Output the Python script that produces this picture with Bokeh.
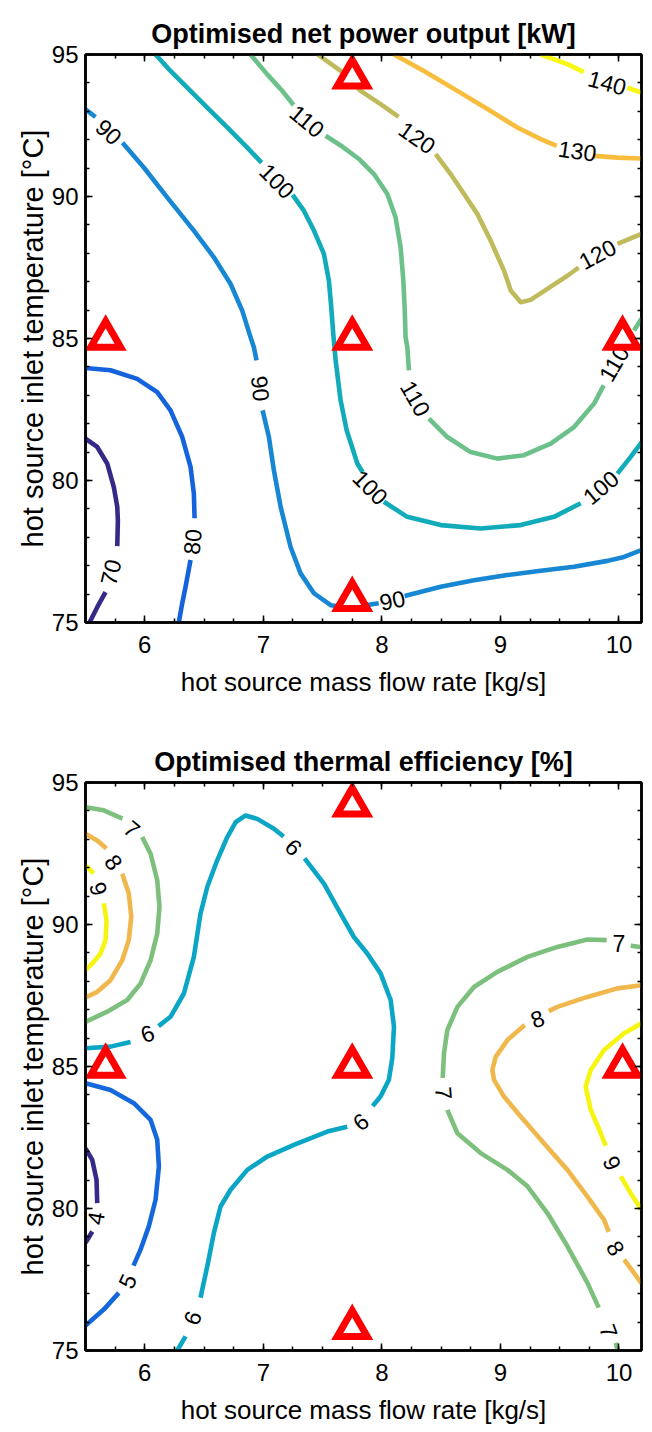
import math
from bokeh.plotting import figure
from bokeh.models import Range1d, FixedTicker, LinearAxis, Label, ColumnDataSource
from bokeh.layouts import column
from bokeh.embed import file_html
from bokeh.resources import INLINE
from bokeh.core.properties import value

FONT = "Liberation Sans"

# ---------------- axes / ticks ----------------
x_limits = (5.5, 10.19)
y_limits = (75, 95)
x_major = [6, 7, 8, 9, 10]
x_minor = [5.5, 5.75, 6.0, 6.25, 6.5, 6.75, 7.0, 7.25, 7.5, 7.75, 8.0, 8.25,
           8.5, 8.75, 9.0, 9.25, 9.5, 9.75, 10.0]
y_major = [75, 80, 85, 90, 95]
y_minor = [75, 76, 77, 78, 79, 80, 81, 82, 83, 84, 85, 86, 87, 88, 89, 90,
           91, 92, 93, 94, 95]

# design points (red triangles)
design_x = [7.75, 5.67, 7.75, 10.03, 7.75]
design_y = [94.2, 85.0, 85.0, 85.0, 75.8]

# ---------------- (a) net power output [kW] ----------------
a_levels = [70, 80, 90, 100, 110, 120, 130, 140]
a_colors = ["#352a87", "#1563dc", "#1787d4", "#11abba", "#6cc18b", "#bfbb5c",
            "#f9bd3d", "#f8f812"]
a_70 = [[(5.5, 81.47), (5.599, 81.18), (5.683, 80.60), (5.739, 79.77), (5.768, 79.07),
         (5.773, 78.60), (5.768, 77.69)],
        [(5.669, 76.07), (5.599, 75.54), (5.534, 75.0)]]
a_80 = [[(5.5, 83.96), (5.711, 83.88), (5.936, 83.58), (6.105, 83.11), (6.217, 82.47),
         (6.316, 81.53), (6.386, 80.48), (6.414, 79.54), (6.420, 78.67)],
        [(6.386, 77.20), (6.344, 76.26), (6.316, 75.68), (6.287, 75.0)]]
a_90 = [[(5.5, 93.07), (5.584, 92.80)],
        [(5.812, 91.89), (5.992, 91.02), (6.189, 89.97), (6.414, 88.80), (6.583, 87.86),
         (6.724, 86.92), (6.822, 85.98), (6.892, 85.05), (6.920, 84.69), (6.943, 84.23)],
        [(6.994, 82.47), (7.047, 81.53), (7.089, 80.36), (7.146, 79.07), (7.230, 77.66),
         (7.314, 76.73), (7.427, 76.03), (7.568, 75.61), (7.708, 75.53), (7.821, 75.58),
         (7.973, 75.68)],
        [(8.192, 75.93), (8.496, 76.26), (8.777, 76.49), (9.059, 76.67), (9.340, 76.82),
         (9.621, 76.96), (9.903, 77.17), (10.043, 77.31), (10.19, 77.55)]]
a_100 = [[(6.091, 95.0), (6.217, 94.42), (6.358, 93.83), (6.527, 93.13), (6.696, 92.43),
          (6.865, 91.72), (6.985, 91.19)],
         [(7.247, 90.06), (7.342, 89.50), (7.427, 88.80), (7.511, 87.98), (7.553, 87.04),
          (7.573, 86.10), (7.590, 85.16), (7.610, 84.23), (7.652, 82.82), (7.703, 81.77),
          (7.793, 80.60), (7.838, 80.29)],
         [(8.017, 79.25), (8.214, 78.72), (8.496, 78.43), (8.833, 78.31), (9.171, 78.43),
          (9.452, 78.72), (9.677, 79.20)],
         [(9.987, 80.24), (10.099, 80.83), (10.19, 81.34)]]
a_110 = [[(6.892, 95.0), (7.033, 94.30), (7.160, 93.72), (7.255, 93.22)],
         [(7.525, 92.14), (7.669, 91.75), (7.804, 91.33), (7.933, 90.79), (8.046, 90.09),
          (8.116, 89.26), (8.158, 88.21), (8.181, 87.04), (8.192, 86.10), (8.200, 85.05),
          (8.215, 84.69), (8.228, 83.88)],
         [(8.397, 82.18), (8.552, 81.53), (8.749, 81.00), (8.974, 80.77), (9.199, 80.89),
          (9.424, 81.30), (9.621, 81.88), (9.789, 82.70), (9.871, 83.35)],
         [(10.127, 85.28), (10.19, 85.70)]]
a_120 = [[(7.458, 95.0), (7.652, 94.42), (7.821, 93.72), (7.989, 93.25), (8.141, 92.80)],
         [(8.454, 91.49), (8.580, 90.79), (8.693, 90.09), (8.806, 89.38), (8.918, 88.44),
          (9.030, 87.39), (9.087, 86.69), (9.171, 86.28), (9.255, 86.36), (9.396, 86.75),
          (9.565, 87.21), (9.660, 87.50)],
         [(9.987, 88.33), (10.19, 88.68)]]
a_130 = [[(8.102, 95.0), (8.355, 94.42), (8.637, 93.72), (8.918, 93.01), (9.143, 92.43),
          (9.340, 92.02), (9.475, 91.78)],
         [(9.790, 91.43), (9.987, 91.37), (10.19, 91.34)]]
a_140 = [[(9.340, 95.0), (9.565, 94.66), (9.703, 94.38)],
         [(10.071, 93.83), (10.19, 93.66)]]
a_lines = [a_70, a_80, a_90, a_100, a_110, a_120, a_130, a_140]
# contour labels: (level, x, y, angle in degrees)
a_labels = [(70, 5.711, 76.77, 76), (80, 6.400, 77.84, 85),
            (90, 5.697, 92.28, -42), (90, 6.977, 83.24, -85), (90, 8.088, 75.79, 12),
            (100, 7.118, 90.55, -45), (100, 7.905, 79.76, -45), (100, 9.846, 79.76, 40),
            (110, 7.371, 92.66, -40), (110, 8.285, 82.89, -60), (110, 9.956, 84.12, 60),
            (120, 8.299, 92.08, -35), (120, 9.818, 87.98, 28),
            (130, 9.649, 91.61, -8), (140, 9.902, 94.01, -15)]

# ---------------- (b) thermal efficiency [%] ----------------
b_levels = [4, 5, 6, 7, 8, 9]
b_colors = ["#352a87", "#1468dc", "#0ba6c6", "#7dbf7d", "#f0b84c", "#f5f510"]
b_4 = [[(5.5, 82.12), (5.557, 81.71), (5.593, 81.01), (5.599, 80.19)],
       [(5.557, 79.19), (5.5, 78.79)]]
b_5 = [[(5.5, 84.41), (5.711, 84.17), (5.908, 83.71), (6.049, 83.12), (6.105, 82.42),
        (6.119, 81.48), (6.091, 80.31), (6.034, 79.37), (5.964, 78.55), (5.905, 77.99)],
       [(5.781, 77.03), (5.654, 76.44), (5.5, 75.88)]]
b_6 = [[(5.5, 85.64), (5.711, 85.70), (5.880, 85.86)],
       [(6.116, 86.42), (6.217, 86.75), (6.330, 87.57), (6.414, 88.86), (6.470, 90.38),
        (6.527, 91.32), (6.611, 92.26), (6.696, 93.08), (6.766, 93.60), (6.850, 93.84),
        (6.949, 93.72), (7.089, 93.37), (7.171, 93.10)],
       [(7.348, 92.33), (7.511, 91.44), (7.652, 90.38), (7.764, 89.56), (7.877, 88.98),
        (7.989, 88.28), (8.074, 87.34), (8.102, 86.40), (8.088, 85.30), (8.059, 84.53),
        (7.989, 83.94), (7.922, 83.61)],
       [(7.708, 82.88), (7.540, 82.71), (7.258, 82.24), (7.033, 81.83), (6.865, 81.36),
        (6.724, 80.66), (6.639, 80.07), (6.583, 79.14), (6.527, 77.96), (6.470, 76.86)],
       [(6.344, 75.50), (6.274, 75.0)]]
b_7 = [[(5.5, 94.13), (5.654, 94.02), (5.812, 93.73)],
       [(5.978, 93.08), (6.049, 92.49), (6.105, 91.56), (6.124, 90.62), (6.105, 89.68),
        (6.049, 88.74), (5.964, 87.92), (5.852, 87.34), (5.683, 86.93), (5.5, 86.57)],
       [(10.19, 89.20), (10.099, 89.25)],
       [(9.896, 89.45), (9.734, 89.47), (9.481, 89.21), (9.228, 88.86), (8.974, 88.33),
        (8.777, 87.80), (8.637, 87.10), (8.552, 86.28), (8.524, 85.46), (8.513, 84.60)],
       [(8.552, 83.47), (8.637, 82.65), (8.833, 81.95), (9.059, 81.36), (9.228, 80.78),
        (9.396, 79.84), (9.565, 78.67), (9.734, 77.38), (9.829, 76.51)],
       [(9.973, 75.27), (9.990, 75.0)]]
b_8 = [[(5.5, 93.20), (5.599, 92.96), (5.677, 92.68)],
       [(5.810, 91.79), (5.865, 91.09), (5.886, 90.27), (5.865, 89.45), (5.810, 88.74),
        (5.711, 88.04), (5.599, 87.63), (5.5, 87.43)],
       [(10.19, 87.86), (9.987, 87.75), (9.734, 87.45), (9.481, 87.10), (9.408, 86.95)],
       [(9.205, 86.46), (9.059, 85.93), (8.960, 85.34), (8.932, 84.88), (8.946, 84.53),
        (9.030, 83.94), (9.171, 83.24), (9.367, 82.30), (9.565, 81.36), (9.734, 80.42),
        (9.874, 79.60), (9.914, 79.18)],
       [(10.043, 78.20), (10.127, 77.73), (10.19, 77.36)]]
b_9 = [[(5.5, 92.08), (5.568, 91.80)],
       [(5.654, 90.74), (5.677, 90.15), (5.669, 89.45), (5.627, 88.98), (5.557, 88.63),
        (5.5, 88.39)],
       [(10.19, 86.52), (10.043, 86.17), (9.874, 85.58), (9.762, 84.88), (9.719, 84.29),
        (9.762, 83.47), (9.846, 82.65), (9.888, 82.21)],
       [(10.015, 81.13), (10.099, 80.54), (10.19, 79.96)]]
b_lines = [b_4, b_5, b_6, b_7, b_8, b_9]
b_labels = [(9, 5.612, 91.26, -72), (8, 5.739, 92.20, -55), (7, 5.894, 93.37, -40),
            (6, 6.021, 86.17, 20), (6, 7.258, 92.73, -45), (6, 7.821, 83.06, 38),
            (6, 6.400, 76.15, 70), (5, 5.852, 77.44, 65), (4, 5.584, 79.66, 80),
            (7, 9.999, 89.33, 0), (7, 8.524, 84.06, -85), (7, 9.916, 75.68, -70),
            (8, 9.312, 86.69, 20), (8, 9.973, 78.61, -60), (9, 9.945, 81.60, -65)]


def style_axis(ax, ticks, minor, show):
    ax.ticker = FixedTicker(ticks=ticks, minor_ticks=minor)
    ax.major_tick_in = 7
    ax.major_tick_out = 0
    ax.minor_tick_in = 4
    ax.minor_tick_out = 0
    ax.major_tick_line_width = 1.5
    ax.minor_tick_line_width = 1.5
    ax.major_tick_line_color = "black"
    ax.minor_tick_line_color = "black"
    ax.axis_line_width = 2.5
    ax.axis_line_color = "black"
    ax.major_label_text_font = FONT
    ax.major_label_text_color = "black"
    if show:
        ax.major_label_text_font_size = "24px"
    else:
        ax.major_label_overrides = {t: "" for t in ticks}
        ax.major_label_text_font_size = "1px"
        ax.major_label_standoff = 0


def build(title, tag, levels, colors, lines, labels, height, top, bottom):
    p = figure(width=648, height=height, x_range=Range1d(*x_limits),
               y_range=Range1d(*y_limits), output_backend="svg",
               toolbar_location=None, min_border_left=85, min_border_right=7,
               min_border_top=top, min_border_bottom=bottom)
    p.xgrid.visible = False
    p.ygrid.visible = False
    p.outline_line_color = "black"
    p.outline_line_width = 2.5
    p.background_fill_color = "white"

    p.title.text = title
    p.title.align = "center"
    p.title.text_font = FONT
    p.title.text_font_size = "27px"
    p.title.text_font_style = "bold"
    p.title.text_color = "black"
    p.title.standoff = 11

    style_axis(p.xaxis[0], x_major, x_minor, True)
    style_axis(p.yaxis[0], y_major, y_minor, True)
    p.xaxis.major_label_standoff = 13
    p.yaxis.major_label_standoff = 7
    p.xaxis.axis_label = "hot source mass flow rate [kg/s]"
    p.yaxis.axis_label = "hot source inlet temperature [°C]"
    for ax, sz, so in ((p.xaxis[0], "26px", 11), (p.yaxis[0], "29px", 0)):
        ax.axis_label_text_font = FONT
        ax.axis_label_text_font_size = sz
        ax.axis_label_text_font_style = "normal"
        ax.axis_label_text_color = "black"
        ax.axis_label_standoff = so

    top_ax = LinearAxis()
    style_axis(top_ax, x_major, x_minor, False)
    p.add_layout(top_ax, "above")
    right_ax = LinearAxis()
    style_axis(right_ax, y_major, y_minor, False)
    p.add_layout(right_ax, "right")

    for lev, col, segs in zip(levels, colors, lines):
        for seg in segs:
            xs = [pt[0] for pt in seg]
            ys = [pt[1] for pt in seg]
            p.line(xs, ys, line_color=col, line_width=4.6, line_join="round")

    src = ColumnDataSource(dict(
        x=[l[1] for l in labels], y=[l[2] for l in labels],
        text=[str(l[0]) for l in labels],
        angle=[math.radians(l[3]) for l in labels]))
    p.text(x="x", y="y", text="text", angle="angle", source=src,
           text_font=value(FONT), text_font_size=value("23px"),
           text_align="center", text_baseline="middle", text_color="black")

    p.scatter(design_x, design_y, marker="triangle", size=30, fill_color="white",
              line_color="#ff0000", line_width=7, line_join="miter")

    p.add_layout(Label(x=x_limits[0], y=y_limits[1], x_offset=-75, y_offset=31,
                       text=tag, text_font=FONT, text_font_size="29px",
                       text_align="left", text_baseline="middle",
                       text_color="black"))
    return p


p1 = build("Optimised net power output [kW]", "(a)", a_levels, a_colors, a_lines,
           a_labels, height=730, top=54, bottom=108)
p2 = build("Optimised thermal efficiency [%]", "(b)", b_levels, b_colors, b_lines,
           b_labels, height=700, top=52, bottom=80)

layout = column(p1, p2, spacing=0)
open("out.html", "w").write(file_html(layout, INLINE))
